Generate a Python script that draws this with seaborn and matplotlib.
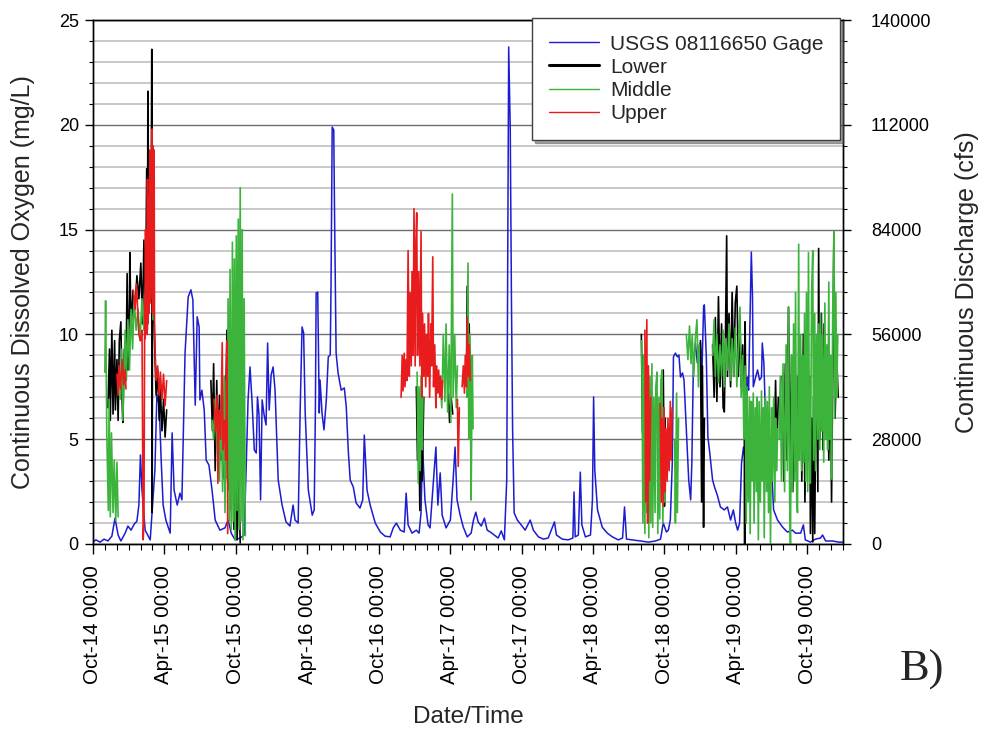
import numpy as np
import pandas as pd
import matplotlib
matplotlib.use("Agg")
import matplotlib.pyplot as plt
import matplotlib.dates as mdates
from matplotlib.ticker import MultipleLocator
from matplotlib.lines import Line2D
import seaborn as sns

# ---------------------------------------------------------------------------
# USGS 08116650 gage: continuous discharge (cfs)
# ---------------------------------------------------------------------------
gage_dates = [
    "2014-10-01", "2014-10-09", "2014-10-20", "2014-10-30", "2014-11-09", "2014-11-19",
    "2014-11-27", "2014-12-05", "2014-12-12", "2014-12-23", "2014-12-30", "2015-01-07",
    "2015-01-15", "2015-01-22", "2015-01-27", "2015-01-31", "2015-02-04", "2015-02-12",
    "2015-02-25", "2015-03-09", "2015-03-14", "2015-03-20", "2015-03-25", "2015-03-30",
    "2015-04-06", "2015-04-17", "2015-04-22", "2015-04-27", "2015-05-05", "2015-05-12",
    "2015-05-17", "2015-05-25", "2015-06-02", "2015-06-09", "2015-06-14", "2015-06-20",
    "2015-06-25", "2015-06-30", "2015-07-02", "2015-07-07", "2015-07-13", "2015-07-18",
    "2015-07-25", "2015-08-02", "2015-08-10", "2015-08-22", "2015-09-04", "2015-09-12",
    "2015-09-20", "2015-09-30", "2015-10-13", "2015-10-23", "2015-10-28", "2015-11-02",
    "2015-11-07", "2015-11-12", "2015-11-18", "2015-11-23", "2015-11-26", "2015-11-30",
    "2015-12-04", "2015-12-08", "2015-12-13", "2015-12-18", "2015-12-22", "2015-12-26",
    "2015-12-31", "2016-01-05", "2016-01-10", "2016-01-18", "2016-01-28", "2016-02-07",
    "2016-02-17", "2016-02-25", "2016-03-01", "2016-03-09", "2016-03-14", "2016-03-19",
    "2016-03-23", "2016-03-27", "2016-04-04", "2016-04-14", "2016-04-19", "2016-04-22",
    "2016-04-24", "2016-04-28", "2016-05-02", "2016-05-04", "2016-05-09", "2016-05-14",
    "2016-05-20", "2016-05-25", "2016-05-30", "2016-06-01", "2016-06-04", "2016-06-08",
    "2016-06-10", "2016-06-14", "2016-06-19", "2016-06-27", "2016-07-05", "2016-07-10",
    "2016-07-15", "2016-07-20", "2016-07-28", "2016-08-04", "2016-08-14", "2016-08-21",
    "2016-08-25", "2016-09-01", "2016-09-09", "2016-09-22", "2016-10-05", "2016-10-17",
    "2016-10-30", "2016-11-07", "2016-11-15", "2016-11-25", "2016-12-05", "2016-12-10",
    "2016-12-15", "2016-12-25", "2017-01-05", "2017-01-12", "2017-01-17", "2017-01-21",
    "2017-01-27", "2017-02-04", "2017-02-09", "2017-02-24", "2017-03-01", "2017-03-07",
    "2017-03-12", "2017-03-22", "2017-04-02", "2017-04-09", "2017-04-14", "2017-04-19",
    "2017-04-27", "2017-05-05", "2017-05-15", "2017-05-25", "2017-05-31", "2017-06-06",
    "2017-06-12", "2017-06-20", "2017-06-28", "2017-07-05", "2017-07-13", "2017-07-23",
    "2017-08-02", "2017-08-10", "2017-08-18", "2017-08-24", "2017-08-29", "2017-09-02",
    "2017-09-05", "2017-09-08", "2017-09-12", "2017-09-20", "2017-09-30", "2017-10-10",
    "2017-10-23", "2017-10-31", "2017-11-13", "2017-11-26", "2017-12-08", "2017-12-24",
    "2017-12-29", "2018-01-13", "2018-01-28", "2018-02-09", "2018-02-12", "2018-02-15",
    "2018-02-23", "2018-02-28", "2018-03-04", "2018-03-13", "2018-03-26", "2018-03-31",
    "2018-04-03", "2018-04-06", "2018-04-13", "2018-04-25", "2018-05-08", "2018-05-21",
    "2018-06-05", "2018-06-16", "2018-06-21", "2018-06-26", "2018-07-11", "2018-08-01",
    "2018-08-21", "2018-09-08", "2018-09-21", "2018-09-28", "2018-10-06", "2018-10-11",
    "2018-10-16", "2018-10-21", "2018-10-24", "2018-10-29", "2018-11-03", "2018-11-07",
    "2018-11-11", "2018-11-16", "2018-11-20", "2018-11-26", "2018-12-02", "2018-12-07",
    "2018-12-10", "2018-12-14", "2018-12-19", "2018-12-24", "2018-12-28", "2019-01-01",
    "2019-01-05", "2019-01-09", "2019-01-11", "2019-01-16", "2019-01-20", "2019-01-24",
    "2019-02-01", "2019-02-06", "2019-02-13", "2019-02-21", "2019-03-03", "2019-03-11",
    "2019-03-19", "2019-03-26", "2019-04-01", "2019-04-06", "2019-04-11", "2019-04-16",
    "2019-04-21", "2019-04-26", "2019-05-01", "2019-05-04", "2019-05-07", "2019-05-11",
    "2019-05-14", "2019-05-16", "2019-05-22", "2019-05-27", "2019-06-01", "2019-06-06",
    "2019-06-08", "2019-06-12", "2019-06-16", "2019-06-21", "2019-06-25", "2019-07-01",
    "2019-07-07", "2019-07-17", "2019-07-30", "2019-08-11", "2019-08-24", "2019-09-01",
    "2019-09-14", "2019-09-21", "2019-09-26", "2019-10-09", "2019-10-22", "2019-11-04",
    "2019-11-09", "2019-11-17", "2019-12-05", "2019-12-20", "2019-12-31",
]
gage_cfs = [
    500, 1100, 500, 1300, 800, 2100,
    6900, 2400, 800, 2900, 4800, 3700,
    5300, 6100, 10400, 23800, 14400, 3700,
    1100, 19800, 39800, 37100, 22400, 10400,
    6400, 2900, 29700, 14400, 10400, 13600,
    11800, 51000, 66000, 67900, 65200, 37100,
    60700, 58000, 38500, 41100, 35800, 22400,
    21100, 14400, 6400, 3700, 4300, 6400,
    2900, 1100, 1600, 2400, 19800, 38500,
    47300, 38500, 25100, 24300, 39300, 34500,
    11800, 38500, 34500, 31800, 53700, 35800,
    45200, 47300, 41100, 17100, 10400, 5900,
    4800, 10400, 6400, 5600, 35000, 58000,
    56400, 35000, 14400, 7700, 9100, 35000,
    67100, 67300, 35000, 43800, 35000, 30500,
    38500, 50000, 50500, 68700, 111400, 110600,
    88400, 51000, 45700, 41100, 41700, 36600,
    25100, 17100, 15200, 11000, 9600, 11800,
    29100, 14400, 10400, 5600, 3200, 2100,
    1900, 4300, 5600, 3700, 3200, 13600,
    5100, 2900, 3700, 2900, 8300, 26000,
    11800, 5100, 4300, 25900, 10400, 19000,
    7700, 4300, 6400, 17100, 25900, 11800,
    7700, 4500, 1900, 2900, 6400, 8500,
    5900, 4800, 6900, 3700, 3200, 2400,
    1600, 3500, 1100, 17100, 132800, 110600,
    66000, 30500, 8300, 6400, 5100, 3700,
    6400, 3700, 1900, 1300, 1600, 5900,
    2400, 1300, 1100, 1600, 13900, 1900,
    2400, 19200, 5100, 1900, 2400, 11800,
    39300, 19800, 9100, 4500, 2900, 1900,
    1100, 1600, 9900, 1300, 1100, 800,
    500, 800, 1300, 5600, 3200, 3700,
    6400, 21600, 50000, 51000, 50000, 50500,
    44600, 45700, 43800, 30500, 17100, 11800,
    21600, 48400, 53700, 48400, 52600, 53700,
    46500, 63300, 63900, 50000, 28600, 25100,
    17100, 15200, 13100, 9900, 9100, 9900,
    6400, 9100, 5600, 3700, 5600, 21600,
    25900, 21600, 44600, 41100, 57200, 78000,
    66000, 42000, 44600, 46500, 43800, 44600,
    53700, 48400, 35000, 33900, 28600, 21600,
    9100, 6400, 4500, 3200, 3700, 2900,
    2900, 5100, 1100, 500, 1300, 1600,
    2400, 800, 800, 500, 500,
]

# ---------------------------------------------------------------------------
# Continuous dissolved oxygen (mg/L) at the three sondes.
# None marks the break between two deployments.
# ---------------------------------------------------------------------------
lower_dates = [
    "2014-11-09", "2014-11-13", "2014-11-15", "2014-11-19", "2014-11-22", "2014-11-26",
    "2014-11-28", "2014-12-02", "2014-12-05", "2014-12-08", "2014-12-12", "2014-12-15",
    "2014-12-17", "2014-12-21", "2014-12-25", "2014-12-28", "2014-12-30", "2015-01-03",
    "2015-01-04", "2015-01-07", "2015-01-12", "2015-01-17", "2015-01-22", "2015-01-27",
    "2015-02-01", "2015-02-05", "2015-02-09", "2015-02-13", "2015-02-16", "2015-02-18",
    "2015-02-19", "2015-02-22", "2015-02-25", "2015-02-27", "2015-03-01", "2015-03-02",
    "2015-03-03", "2015-03-07", "2015-03-09", "2015-03-12", "2015-03-16", "2015-03-20",
    "2015-03-23", "2015-03-27", "2015-03-31", "2015-04-04", "2015-04-08", None,
    "2015-07-30", "2015-08-03", "2015-08-06", "2015-08-10", "2015-08-14", "2015-08-17",
    "2015-08-21", "2015-08-25", "2015-08-29", "2015-09-02", "2015-09-06", "2015-09-09",
    "2015-09-12", "2015-09-16", "2015-09-20", "2015-09-23", "2015-09-27", "2015-10-01",
    "2015-10-05", "2015-10-09", "2015-10-13", None,
    "2017-01-05", "2017-01-08", "2017-01-11", "2017-01-14", "2017-01-16", "2017-01-20",
    "2017-01-24", None,
    "2017-03-28", "2017-03-31", "2017-04-04", "2017-04-08", None,
    "2017-05-13", "2017-05-15", "2017-05-18", "2017-05-20", "2017-05-23", None,
    "2018-08-03", "2018-08-06", "2018-08-08", None,
    "2018-09-23", "2018-09-26", "2018-09-28", "2018-10-01", "2018-10-03", None,
    "2019-01-01", "2019-01-04", "2019-01-06", "2019-01-09", "2019-01-11", None,
    "2019-02-01", "2019-02-05", "2019-02-08", "2019-02-12", "2019-02-16", "2019-02-20",
    "2019-02-24", "2019-02-28", "2019-03-03", "2019-03-06", "2019-03-09", "2019-03-11",
    "2019-03-15", "2019-03-19", "2019-03-23", "2019-03-27", "2019-03-31", "2019-04-04",
    "2019-04-08", "2019-04-12", "2019-04-15", "2019-04-19", "2019-04-23", "2019-04-24",
    "2019-04-25", "2019-04-28", None,
    "2019-07-04", "2019-07-08", "2019-07-12", "2019-07-15", "2019-07-19", None,
    "2019-07-29", "2019-08-02", "2019-08-06", "2019-08-10", "2019-08-14", "2019-08-18",
    "2019-08-22", "2019-08-25", "2019-08-29", "2019-09-02", "2019-09-06", "2019-09-10",
    "2019-09-14", "2019-09-17", "2019-09-21", "2019-09-25", "2019-09-29", "2019-10-03",
    "2019-10-07", "2019-10-09", "2019-10-12", "2019-10-15", "2019-10-17", "2019-10-20",
    "2019-10-24", "2019-10-28", "2019-10-30", "2019-11-02", "2019-11-06", "2019-11-10",
    "2019-11-13", "2019-11-17", "2019-11-21", "2019-11-25", "2019-11-29", "2019-12-02",
    "2019-12-06", "2019-12-08", "2019-12-11", "2019-12-15", "2019-12-19",
]
lower_do = [
    6.5, 9.3, 5.9, 10.2, 6.2, 9.7,
    6.4, 8.8, 5.9, 9.7, 10.6, 6.9,
    5.8, 9.3, 7.8, 12.9, 8.3, 11.7,
    13.9, 10.2, 12.1, 11.2, 12.8, 11.7,
    13.4, 10.5, 14.5, 11.0, 17.9, 12.0,
    21.6, 13.0, 18.5, 14.0, 23.6, 1.5,
    15.5, 10.7, 9.1, 7.1, 8.3, 5.9,
    7.4, 5.4, 6.9, 5.1, 6.4, None,
    7.8, 5.4, 8.6, 3.5, 7.8, 4.5,
    7.1, 4.0, 5.9, 3.1, 6.9, 10.2,
    2.6, 5.9, 1.6, 10.2, 0.7, 6.9,
    0.2, 3.1, 0.05, None,
    7.5, 4.0, 6.1, 1.6, 5.5, 3.0,
    7.0, None,
    7.2, 5.8, 7.0, 6.2, None,
    8.0, 12.3, 7.0, 10.5, 6.9, None,
    10.0, 5.3, 9.0, None,
    7.0, 2.0, 8.3, 1.8, 6.0, None,
    9.7, 2.0, 8.5, 0.8, 6.0, None,
    9.5, 7.0, 10.8, 6.8, 11.8, 7.5,
    10.5, 6.5, 6.3, 10.0, 14.7, 8.0,
    11.0, 7.5, 12.0, 8.0, 11.5, 12.3,
    8.0, 10.8, 7.5, 9.5, 6.0, 0.0,
    10.6, 5.0, None,
    6.0, 4.0, 7.8, 4.5, 7.0, None,
    8.0, 3.0, 8.6, 4.0, 11.3, 3.5,
    9.0, 2.5, 7.5, 3.5, 8.0, 4.0,
    9.0, 3.0, 10.0, 2.0, 9.5, 4.0,
    8.0, 0.5, 6.0, 0.1, 7.0, 0.5,
    9.5, 2.5, 14.1, 5.0, 11.0, 4.5,
    10.5, 5.5, 9.0, 4.0, 8.5, 2.0,
    10.0, 14.8, 6.0, 9.0, 7.0,
]

middle_dates = [
    "2014-11-01", "2014-11-03", "2014-11-06", "2014-11-10", "2014-11-12", "2014-11-15",
    "2014-11-18", "2014-11-22", "2014-11-25", "2014-11-29", "2014-12-02", "2014-12-05", None,
    "2014-12-10", "2014-12-14", "2014-12-17", "2014-12-23", "2014-12-26", "2014-12-30",
    "2015-01-03", "2015-01-07", "2015-01-11", "2015-01-15", "2015-01-20", "2015-01-25",
    "2015-01-30", "2015-02-04", "2015-02-09", "2015-02-14", "2015-02-18", "2015-02-22",
    "2015-02-26", "2015-03-02", "2015-03-04", None,
    "2015-08-02", "2015-08-06", "2015-08-10", "2015-08-14", "2015-08-17", "2015-08-21",
    "2015-08-25", "2015-08-29", "2015-09-02", "2015-09-04", "2015-09-07", "2015-09-10",
    "2015-09-12", "2015-09-15", "2015-09-17", "2015-09-20", "2015-09-23", "2015-09-25",
    "2015-09-28", "2015-09-30", "2015-10-03", "2015-10-05", "2015-10-08", "2015-10-10",
    "2015-10-13", "2015-10-15", "2015-10-18", "2015-10-20", "2015-10-23", "2015-10-26", None,
    "2017-01-07", "2017-01-10", "2017-01-12", "2017-01-15", "2017-01-17", "2017-01-20",
    "2017-01-22", None,
    "2017-03-07", "2017-03-11", "2017-03-15", "2017-03-19", "2017-03-22", "2017-03-26",
    "2017-03-30", "2017-04-03", "2017-04-07", "2017-04-09", "2017-04-13", "2017-04-17",
    "2017-04-20", None,
    "2017-05-14", "2017-05-17", "2017-05-19", "2017-05-22", "2017-05-24", "2017-05-25",
    "2017-05-28", "2017-05-30", None,
    "2018-08-04", "2018-08-07", "2018-08-09", "2018-08-12", "2018-08-14", "2018-08-17",
    "2018-08-20", "2018-08-22", "2018-08-25", "2018-08-27", "2018-08-30", "2018-09-01",
    "2018-09-04", "2018-09-07", "2018-09-09", "2018-09-12", "2018-09-14", "2018-09-17",
    "2018-09-19", "2018-09-22", "2018-09-25", "2018-09-27", "2018-09-30", "2018-10-02", None,
    "2018-10-27", "2018-10-29", "2018-11-01", "2018-11-03", "2018-11-06", None,
    "2018-11-26", "2018-11-30", "2018-12-04", "2018-12-08", "2018-12-11", "2018-12-15",
    "2018-12-19", "2018-12-23", "2018-12-27", "2018-12-29", None,
    "2019-02-01", "2019-02-05", "2019-02-08", "2019-02-12", "2019-02-16", "2019-02-20",
    "2019-02-24", "2019-02-28", "2019-03-03", "2019-03-07", "2019-03-11", "2019-03-15",
    "2019-03-19", "2019-03-23", "2019-03-27", "2019-03-31", "2019-04-04", "2019-04-08",
    "2019-04-12", "2019-04-15", "2019-04-19", "2019-04-22", "2019-04-25", "2019-04-28",
    "2019-04-30", "2019-05-03", "2019-05-06", "2019-05-08", "2019-05-11", "2019-05-13",
    "2019-05-16", "2019-05-18", "2019-05-21", "2019-05-24", "2019-05-26", "2019-05-29",
    "2019-05-31", "2019-06-03", "2019-06-06", "2019-06-08", "2019-06-11", "2019-06-13",
    "2019-06-16", "2019-06-19", "2019-06-21", "2019-06-24", "2019-06-26", "2019-06-29",
    "2019-07-02", "2019-07-04", "2019-07-07", "2019-07-10", "2019-07-12", "2019-07-15",
    "2019-07-17", None,
    "2019-07-21", "2019-07-24", "2019-07-27", "2019-07-31", "2019-08-04", "2019-08-08",
    "2019-08-11", "2019-08-14", "2019-08-17", "2019-08-19", "2019-08-22", "2019-08-24",
    "2019-08-27", "2019-08-30", "2019-09-01", "2019-09-04", "2019-09-06", "2019-09-09",
    "2019-09-11", "2019-09-14", "2019-09-17", "2019-09-19", "2019-09-22", "2019-09-24",
    "2019-09-27", "2019-09-29", "2019-10-02", "2019-10-04", "2019-10-07", "2019-10-09",
    "2019-10-12", "2019-10-15", "2019-10-17", "2019-10-20", "2019-10-22", "2019-10-25",
    "2019-10-28", "2019-10-30", "2019-11-02", "2019-11-04", "2019-11-07", "2019-11-09",
    "2019-11-12", "2019-11-15", "2019-11-17", "2019-11-20", "2019-11-22", "2019-11-25",
    "2019-11-27", "2019-11-30", "2019-12-02", "2019-12-05", "2019-12-08", "2019-12-10",
    "2019-12-13", "2019-12-15", "2019-12-18",
]
middle_do = [
    8.2, 11.6, 5.3, 1.6, 6.9, 1.3,
    5.3, 1.5, 4.0, 1.1, 3.9, 1.3, None,
    6.9, 9.3, 5.9, 10.2, 7.8, 10.7,
    8.3, 11.2, 9.3, 11.7, 10.2, 11.2,
    9.7, 11.7, 10.2, 12.1, 10.2, 14.5,
    11.7, 15.0, 10.7, None,
    5.9, 5.0, 6.9, 4.7, 5.9, 3.0,
    6.5, 2.5, 8.0, 1.5, 7.8, 3.1,
    11.7, 1.1, 13.1, 0.7, 14.4, 1.1,
    13.6, 0.2, 14.7, 1.6, 15.5, 0.7,
    17.0, 1.1, 15.0, 0.2, 11.7, 0.4, None,
    8.2, 2.9, 7.5, 3.5, 8.0, 4.5,
    7.0, None,
    8.0, 6.5, 10.0, 6.8, 10.5, 6.3,
    9.5, 5.8, 16.7, 7.0, 10.0, 6.5,
    8.5, None,
    7.0, 13.4, 5.0, 10.0, 4.5, 2.1,
    9.0, 5.5, None,
    9.7, 1.0, 9.0, 0.5, 8.0, 1.5,
    7.5, 0.3, 8.0, 1.0, 8.6, 0.8,
    7.0, 1.5, 7.5, 8.2, 0.5, 7.0,
    1.2, 7.8, 8.3, 1.0, 6.5, 2.0, None,
    5.0, 1.0, 7.2, 1.5, 6.0, None,
    10.0, 8.8, 10.4, 8.6, 10.0, 8.0,
    9.8, 10.7, 7.5, 9.5, None,
    9.0, 10.7, 8.0, 10.0, 7.7, 9.5,
    8.0, 10.2, 7.5, 9.8, 8.3, 10.5,
    7.8, 9.8, 8.0, 10.3, 7.5, 9.5,
    11.3, 7.0, 9.0, 5.0, 8.5, 1.0,
    7.5, 2.0, 7.0, 0.5, 6.8, 3.0,
    7.2, 1.0, 6.5, 2.5, 7.0, 0.2,
    6.8, 2.0, 7.3, 3.0, 6.5, 0.3,
    7.0, 2.5, 6.8, 1.5, 7.5, 0.0,
    6.5, 3.0, 7.0, 2.0, 6.0, 3.5,
    5.5, None,
    5.0, 8.0, 3.0, 8.6, 2.5, 9.5,
    3.5, 11.3, 2.0, 0.0, 9.0, 2.5,
    10.5, 3.0, 12.0, 2.0, 1.5, 14.3,
    4.0, 10.0, 3.5, 9.0, 3.9, 11.0,
    3.0, 12.0, 2.5, 13.9, 3.0, 2.9,
    12.0, 14.0, 4.0, 11.0, 3.5, 10.0,
    5.0, 10.5, 4.5, 11.0, 5.4, 10.0,
    3.9, 11.5, 5.0, 9.5, 4.5, 12.5,
    5.0, 9.0, 3.1, 11.0, 14.9, 6.0,
    12.0, 7.0, 10.0,
]

upper_dates = [
    "2014-12-02", "2014-12-05", "2014-12-07", "2014-12-11", "2014-12-15", "2014-12-19",
    "2014-12-23", "2014-12-25", None,
    "2015-01-13", "2015-01-17", "2015-01-21", "2015-01-25", "2015-01-27", "2015-01-31",
    "2015-02-04", "2015-02-07", "2015-02-09", "2015-02-11", "2015-02-12", "2015-02-13",
    "2015-02-14", "2015-02-16", "2015-02-17", "2015-02-18", "2015-02-19", "2015-02-21",
    "2015-02-22", "2015-02-24", "2015-02-25", "2015-02-27", "2015-02-28", "2015-03-02",
    "2015-03-03", "2015-03-04", "2015-03-05", "2015-03-07", "2015-03-08", "2015-03-12",
    "2015-03-16", "2015-03-20", "2015-03-23", "2015-03-27", "2015-03-31", "2015-04-04",
    "2015-04-08", None,
    "2015-08-07", "2015-08-11", "2015-08-15", "2015-08-17", "2015-08-20", "2015-08-24",
    "2015-08-28", "2015-08-30", "2015-09-03", "2015-09-06", "2015-09-09", "2015-09-11", None,
    "2016-11-27", "2016-11-30", "2016-12-02", "2016-12-05", "2016-12-07", "2016-12-10",
    "2016-12-12", "2016-12-15", "2016-12-18", "2016-12-20", "2016-12-23", "2016-12-25",
    "2016-12-28", "2016-12-30", "2017-01-02", "2017-01-04", "2017-01-06", "2017-01-08",
    "2017-01-11", "2017-01-14", "2017-01-17", "2017-01-19", "2017-01-21", "2017-01-24",
    "2017-01-26", "2017-01-29", "2017-01-31", "2017-02-03", "2017-02-05", "2017-02-08",
    "2017-02-11", "2017-02-13", "2017-02-16", "2017-02-18", "2017-02-21", "2017-02-24",
    "2017-02-26", "2017-03-01", "2017-03-03", "2017-03-06", "2017-03-08", "2017-03-11",
    "2017-03-13", None,
    "2017-04-20", "2017-04-22", "2017-04-25", None,
    "2017-05-02", "2017-05-05", "2017-05-08", "2017-05-10", "2017-05-13", "2017-05-15",
    "2017-05-18", "2017-05-20", "2017-05-23", None,
    "2018-08-12", "2018-08-14", "2018-08-17", "2018-08-19", "2018-08-21", "2018-08-24",
    "2018-08-27", None,
    "2018-09-20", "2018-09-23", "2018-09-25", "2018-09-28", "2018-09-30", "2018-10-03",
    "2018-10-05", "2018-10-08", "2018-10-10", "2018-10-13", "2018-10-16", "2018-10-18",
    "2018-10-21",
]
upper_do = [
    8.1, 7.1, 8.5, 7.4, 8.8, 7.6,
    8.3, 7.4, None,
    12.1, 11.2, 12.4, 10.7, 10.0, 9.7,
    10.2, 0.2, 1.1, 11.7, 9.8, 15.0,
    10.2, 14.2, 10.0, 17.4, 10.5, 16.5,
    11.0, 18.8, 11.5, 17.5, 12.0, 19.8,
    11.0, 19.0, 12.5, 18.8, 10.2, 7.8,
    8.5, 7.1, 8.2, 6.9, 8.1, 6.6,
    7.8, None,
    6.9, 5.4, 7.1, 2.9, 6.4, 5.0,
    9.6, 4.5, 5.9, 4.0, 9.7, 0.5, None,
    7.0, 9.0, 7.3, 9.1, 7.5, 8.8,
    7.8, 14.0, 8.0, 12.0, 8.5, 13.0,
    9.0, 16.0, 8.5, 14.5, 15.8, 9.0,
    13.0, 8.5, 14.9, 7.0, 11.0, 8.0,
    10.5, 7.5, 10.0, 8.0, 11.0, 7.0,
    10.5, 8.5, 13.7, 7.5, 9.5, 6.5,
    8.5, 7.2, 8.3, 7.0, 8.0, 6.9,
    7.8, None,
    6.9, 3.7, 6.5, None,
    7.5, 8.5, 7.2, 9.0, 7.5, 10.8,
    8.0, 9.5, 7.8, None,
    10.2, 2.0, 10.7, 1.0, 8.5, 3.0,
    7.0, None,
    6.7, 2.0, 6.0, 1.8, 6.5, 2.5,
    5.5, 3.0, 6.0, 3.5, 6.8, 4.0,
    6.5,
]

BLUE = "#1c1cd0"
GREEN = "#3cb43c"
RED = "#e81c1c"
BLACK = "#000000"


def deployment_frame(dates, values):
    """Tidy frame with one id per deployment so gaps stay open."""
    df = pd.DataFrame({
        "time": pd.to_datetime(pd.Series(dates)),
        "value": pd.Series(values, dtype=float),
    })
    df["deployment"] = df["value"].isna().cumsum()
    return df.dropna().reset_index(drop=True)


gage = pd.DataFrame({"time": pd.to_datetime(gage_dates), "cfs": gage_cfs})
lower = deployment_frame(lower_dates, lower_do)
middle = deployment_frame(middle_dates, middle_do)
upper = deployment_frame(upper_dates, upper_do)

sns.set_style("ticks")
plt.rcParams["font.family"] = ["Liberation Sans", "DejaVu Sans"]
plt.rcParams["axes.edgecolor"] = "black"
plt.rcParams["xtick.color"] = "black"
plt.rcParams["ytick.color"] = "black"

fig = plt.figure(figsize=(9.84, 7.30), dpi=100)
ax = fig.add_axes([0.0942, 0.2548, 0.7628, 0.7178])

# dissolved oxygen on the left axis
for df, color in ((lower, BLACK), (middle, GREEN), (upper, RED)):
    sns.lineplot(data=df, x="time", y="value", units="deployment", estimator=None,
                 color=color, lw=1.2, ax=ax, legend=False)

# discharge on the right axis, kept underneath the oxygen traces
ax2 = ax.twinx()
sns.lineplot(data=gage, x="time", y="cfs", estimator=None, color=BLUE, lw=1.1,
             ax=ax2, legend=False)
ax.set_zorder(ax2.get_zorder() + 1)
ax.patch.set_visible(False)

ax.set_xlim(pd.Timestamp("2014-10-01"), pd.Timestamp("2020-01-01"))
ax.set_ylim(0, 25)
ax2.set_ylim(0, 140000)

ax.yaxis.set_major_locator(MultipleLocator(5))
ax.yaxis.set_minor_locator(MultipleLocator(1))
ax2.yaxis.set_major_locator(MultipleLocator(28000))
ax2.yaxis.set_minor_locator(MultipleLocator(5600))
ax.xaxis.set_major_locator(mdates.MonthLocator(bymonth=[4, 10]))
ax.xaxis.set_minor_locator(mdates.MonthLocator())
ax.xaxis.set_major_formatter(mdates.DateFormatter("%b-%y %H:%M"))

# horizontal grid every 1 mg/L, darker every 5 mg/L
ax2.set_axisbelow(True)
ax2.grid(False)
ax2.yaxis.grid(True, which="minor", color="#c8c8c8", lw=1.4)
ax2.yaxis.grid(True, which="major", color="#6e6e6e", lw=1.0)
ax.grid(False)

ax.tick_params(axis="y", which="major", direction="out", length=6, width=1,
               labelsize=13, pad=4, left=True, right=False)
ax.tick_params(axis="y", which="minor", direction="out", length=3, width=0.8,
               left=True, right=False)
ax.tick_params(axis="x", which="major", direction="out", length=7, width=1,
               labelsize=14.8, labelrotation=90, pad=8, bottom=True)
ax.tick_params(axis="x", which="minor", direction="out", length=4, width=0.8, bottom=True)
ax2.tick_params(axis="y", which="major", direction="out", length=6, width=1,
                labelsize=13, pad=14, right=True)
ax2.tick_params(axis="y", which="minor", direction="out", length=3, width=0.8, right=True)

for a in (ax, ax2):
    for side in ("left", "right", "top", "bottom"):
        a.spines[side].set_visible(True)
        a.spines[side].set_color("black")
        a.spines[side].set_linewidth(1.0)

ax.set_ylabel("Continuous Dissolved Oxygen (mg/L)", fontsize=18, labelpad=17)
ax2.set_ylabel("Continuous Discharge (cfs)", fontsize=18, labelpad=17)
ax.set_xlabel("Date/Time", fontsize=17.5, labelpad=16)

handles = [
    Line2D([], [], color=BLUE, lw=1.0),
    Line2D([], [], color=BLACK, lw=2.2),
    Line2D([], [], color=GREEN, lw=1.0),
    Line2D([], [], color=RED, lw=1.0),
]
labels = ["USGS 08116650 Gage", "Lower", "Middle", "Upper"]
leg = ax.legend(handles, labels, loc="upper right", bbox_to_anchor=(0.996, 1.004),
                borderaxespad=0, fontsize=15, frameon=True, fancybox=False,
                shadow=True, edgecolor="#404040", framealpha=1.0,
                handlelength=2.4, handletextpad=0.55, borderpad=0.8, labelspacing=0.2)
leg.get_frame().set_linewidth(1.0)

fig.text(0.937, 0.068, "B)", fontsize=32, family=["Liberation Serif", "DejaVu Serif"],
         ha="center", va="baseline")

fig.savefig("out.png", dpi=100)
